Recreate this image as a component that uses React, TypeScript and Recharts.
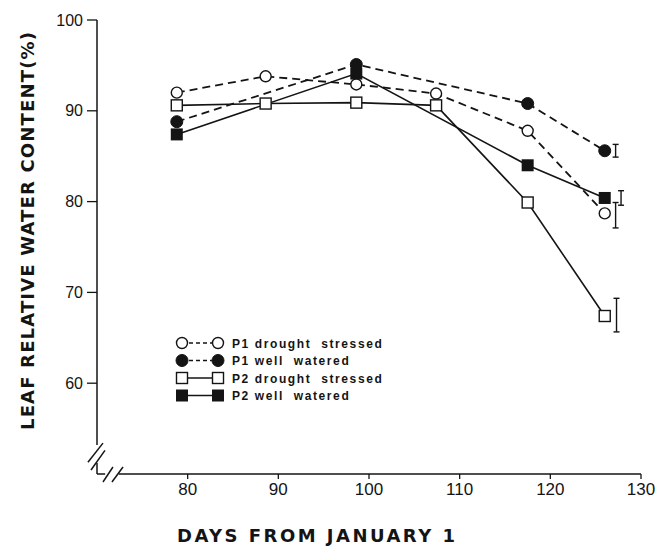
import { ComposedChart, Line, Scatter, ErrorBar, XAxis, YAxis, ReferenceLine, Label } from 'recharts';

// sampling days and leaf relative water content (%)
const daysAll = [78.8, 88.6, 98.6, 107.4, 117.5, 126];
const p1Drought = [92.0, 93.8, 92.9, 91.9, 87.8, 78.7];
const p2Drought = [90.6, 90.8, 90.9, 90.6, 79.9, 67.4];
const daysWell = [78.8, 98.6, 117.5, 126];
const p1Well = [88.8, 95.1, 90.8, 85.6];
const p2Well = [87.4, 94.1, 84.0, 80.4];

// standard error bars drawn beside the last sampling
const errDays = [127.2, 127.8, 127.2, 127.3];
const errMeans = [85.6, 80.4, 78.5, 67.5];
const errSE = [0.7, 0.8, 1.4, 1.85];

const xTicks = [80, 90, 100, 110, 120, 130];
const yTicks = [60, 70, 80, 90, 100];
const legendLabels = ['P1 drought  stressed', 'P1 well  watered', 'P2 drought  stressed', 'P2 well  watered'];

const INK = '#141414';

const rows = (days: number[], vals: number[]) => days.map((day, i) => ({ day, v: vals[i] }));
const errRows = errDays.map((day, i) => ({ day, mean: errMeans[i], se: errSE[i] }));

const OpenCircle = (p: any) => (
  <circle key={`oc${p.index}`} cx={p.cx} cy={p.cy} r={5.5} fill="#fff" stroke={INK} strokeWidth={1.4} />
);
const FilledCircle = (p: any) => <circle key={`fc${p.index}`} cx={p.cx} cy={p.cy} r={6} fill={INK} stroke={INK} />;
const OpenSquare = (p: any) => (
  <rect key={`os${p.index}`} x={p.cx - 5.5} y={p.cy - 5.5} width={11} height={11} fill="#fff" stroke={INK} strokeWidth={1.4} />
);
const FilledSquare = (p: any) => (
  <rect key={`fs${p.index}`} x={p.cx - 6} y={p.cy - 6} width={12} height={12} fill={INK} />
);

const markers = [OpenCircle, FilledCircle, OpenSquare, FilledSquare];
const dashed = [true, true, false, false];

const YTitle = ({ viewBox }: any) => {
  const x = viewBox.x + 34;
  const y = viewBox.y + 211;
  return (
    <text
      x={x}
      y={y}
      transform={`rotate(-90, ${x}, ${y})`}
      textAnchor="middle"
      fontFamily="DejaVu Sans"
      fontWeight="bold"
      fontSize={18}
      textLength={398}
      lengthAdjust="spacing"
      fill={INK}
    >
      LEAF RELATIVE WATER CONTENT(%)
    </text>
  );
};

const XTitle = ({ viewBox }: any) => (
  <text
    x={viewBox.x + 80}
    y={viewBox.y + 68}
    fontFamily="DejaVu Sans"
    fontWeight="bold"
    fontSize={18}
    textLength={278}
    lengthAdjust="spacing"
    fill={INK}
  >
    DAYS FROM JANUARY 1
  </text>
);

function LegendBox() {
  return (
    <svg width={240} height={80} style={{ position: 'absolute', left: 170, top: 333 }}>
      {legendLabels.map((label, i) => {
        const y = 10 + i * 17.5;
        const Marker = markers[i];
        return (
          <g key={label}>
            <line x1={12} x2={48} y1={y} y2={y} stroke={INK} strokeWidth={1.4} strokeDasharray={dashed[i] ? '4 3' : undefined} />
            <Marker cx={12} cy={y} index={0} />
            <Marker cx={48} cy={y} index={1} />
            <text x={62} y={y + 4.5} fontFamily="Liberation Sans" fontWeight="bold" fontSize={12} letterSpacing={1.6} fill={INK} style={{ whiteSpace: 'pre' }}>
              {label}
            </text>
          </g>
        );
      })}
    </svg>
  );
}

const axisLine = { stroke: INK, strokeWidth: 1.5, ifOverflow: 'visible' as const };

export default function App() {
  return (
    <div style={{ position: 'absolute', left: 0, top: 0, width: 658, height: 546, background: '#fff' }}>
      <ComposedChart width={658} height={546} margin={{ top: 20, right: 17, bottom: 0, left: 0 }}>
        <XAxis
          type="number"
          dataKey="day"
          domain={[70, 130]}
          ticks={xTicks}
          allowDataOverflow
          axisLine={false}
          tickLine={{ stroke: INK, strokeWidth: 1.3 }}
          tickSize={5}
          tickMargin={4}
          height={72}
          tick={{ fontSize: 17, fontFamily: 'Liberation Sans', fill: INK }}
        >
          <Label content={XTitle} />
        </XAxis>
        <YAxis
          type="number"
          domain={[50, 100]}
          ticks={yTicks}
          allowDataOverflow
          axisLine={false}
          tickLine={{ stroke: INK, strokeWidth: 1.3 }}
          tickSize={10}
          tickMargin={4}
          width={97}
          tick={{ fontSize: 16, fontFamily: 'Liberation Sans', fill: INK }}
        >
          <Label content={YTitle} />
        </YAxis>

        {/* axes with breaks near the origin */}
        <ReferenceLine segment={[{ x: 70, y: 100 }, { x: 70, y: 53.2 }]} {...axisLine} />
        <ReferenceLine segment={[{ x: 69.0, y: 51.3 }, { x: 70.66, y: 53.4 }]} {...axisLine} />
        <ReferenceLine segment={[{ x: 69.34, y: 50.44 }, { x: 70.88, y: 52.6 }]} {...axisLine} />
        <ReferenceLine segment={[{ x: 70, y: 51.2 }, { x: 70, y: 50 }]} {...axisLine} />
        <ReferenceLine segment={[{ x: 70, y: 50 }, { x: 70.9, y: 50 }]} {...axisLine} />
        <ReferenceLine segment={[{ x: 70.66, y: 49.12 }, { x: 71.76, y: 50.77 }]} {...axisLine} />
        <ReferenceLine segment={[{ x: 71.65, y: 49.12 }, { x: 72.87, y: 50.77 }]} {...axisLine} />
        <ReferenceLine segment={[{ x: 72.4, y: 50 }, { x: 130, y: 50 }]} {...axisLine} />

        <Line data={rows(daysAll, p2Drought)} dataKey="v" stroke={INK} strokeWidth={1.6} dot={OpenSquare} isAnimationActive={false} legendType="none" />
        <Line data={rows(daysWell, p2Well)} dataKey="v" stroke={INK} strokeWidth={1.6} dot={FilledSquare} isAnimationActive={false} legendType="none" />
        <Line data={rows(daysAll, p1Drought)} dataKey="v" stroke={INK} strokeWidth={1.8} strokeDasharray="8 5" dot={OpenCircle} isAnimationActive={false} legendType="none" />
        <Line data={rows(daysWell, p1Well)} dataKey="v" stroke={INK} strokeWidth={1.8} strokeDasharray="8 5" dot={FilledCircle} isAnimationActive={false} legendType="none" />

        <Scatter data={errRows} dataKey="mean" shape={() => <g />} isAnimationActive={false} legendType="none">
          <ErrorBar dataKey="se" direction="y" width={3} stroke={INK} strokeWidth={1.4} isAnimationActive={false} />
        </Scatter>
      </ComposedChart>
      <LegendBox />
    </div>
  );
}
